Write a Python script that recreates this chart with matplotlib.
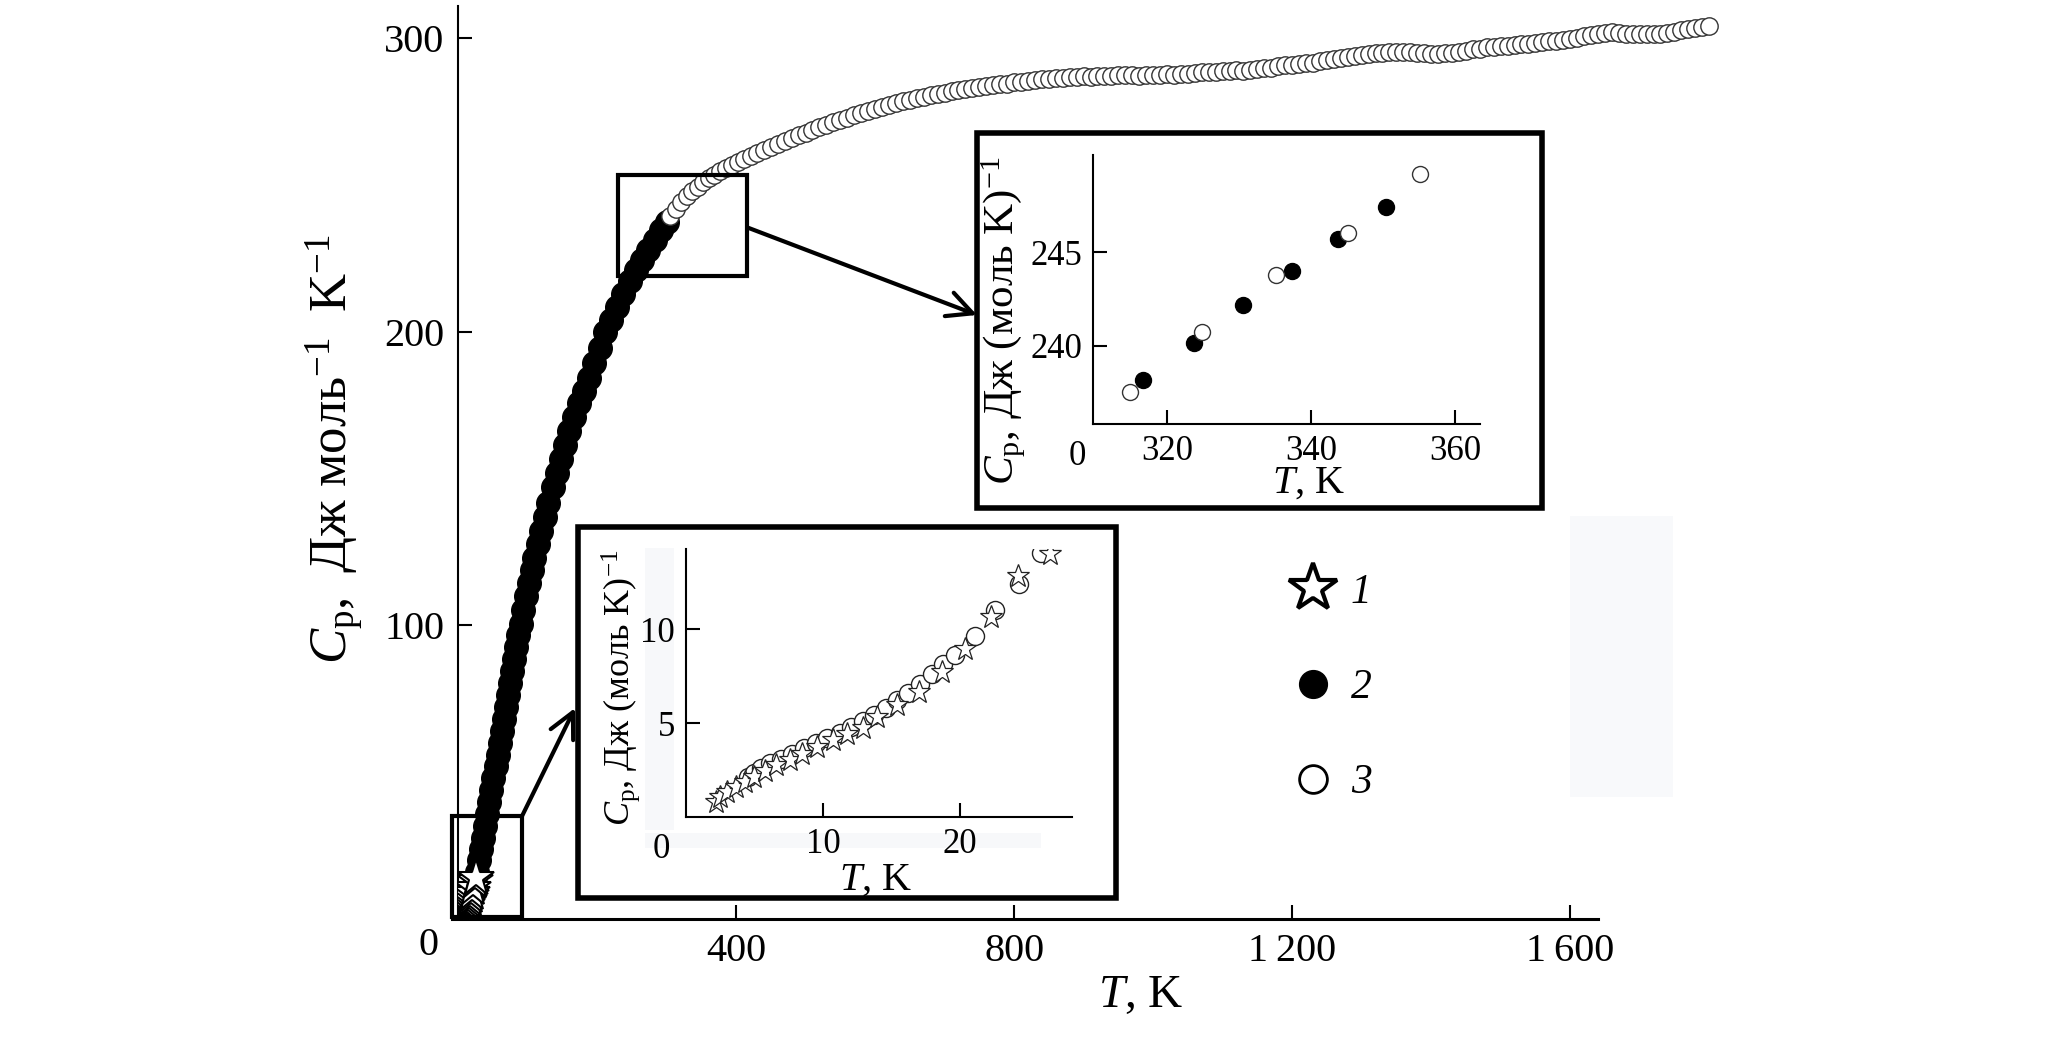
import matplotlib
matplotlib.use("Agg")
import matplotlib.pyplot as plt
from matplotlib.patches import Rectangle
from matplotlib.lines import Line2D
from matplotlib.font_manager import FontProperties

plt.rcParams['font.family'] = ['Liberation Serif', 'DejaVu Serif']
plt.rcParams['mathtext.fontset'] = 'custom'
plt.rcParams['mathtext.rm'] = 'Liberation Serif'
plt.rcParams['mathtext.it'] = 'Liberation Serif:italic'

# ---- data: series 1 (stars), low temperatures
t_star = [2.22, 2.49, 3.00, 3.66, 4.31, 4.96, 5.75, 6.61, 7.57, 8.49, 9.54, 10.71,
          11.76, 12.93, 13.97, 15.41, 17.05, 18.67, 20.37, 22.27, 24.28, 26.56]
cp_star = [0.80, 1.06, 1.33, 1.60, 1.86, 2.13, 2.45, 2.75, 3.05, 3.37, 3.72, 4.08,
           4.44, 4.75, 5.32, 5.98, 6.65, 7.71, 8.96, 10.64, 12.80, 14.01]

# series 3 (open circles) in the low-temperature inset
t_open_low = [4.50, 4.96, 5.49, 6.14, 6.92, 7.76, 8.62, 9.48, 10.31, 11.23, 12.09, 12.93,
              13.71, 14.58, 15.41, 16.19, 17.11, 17.94, 18.80, 19.66, 21.09, 22.59, 24.36, 25.93]
cp_open_low = [2.13, 2.36, 2.63, 2.87, 3.11, 3.37, 3.67, 3.94, 4.22, 4.47, 4.79, 5.11,
               5.41, 5.82, 6.21, 6.62, 7.10, 7.63, 8.16, 8.60, 9.63, 10.99, 12.41, 14.06]

# series 2 (filled circles), main curve
t_fill = [6, 9, 12, 15, 18, 21, 24, 27, 30, 33, 36, 39, 42, 45, 48, 51, 54, 57, 60, 63,
          66, 69, 72, 75, 78, 81, 84, 87, 90, 94, 98, 102, 106, 110, 115, 120, 125, 130,
          136, 142, 148, 154, 160, 167, 174, 181, 188, 196, 204, 212, 220, 229, 238, 247,
          256, 265, 274, 283, 292, 300]
cp_fill = [2.85, 3.85, 4.75, 6.0, 7.65, 9.6, 12.1, 16.0, 20.0, 23.9, 27.7, 31.6, 35.9,
           40.0, 44.1, 48.0, 52.0, 56.0, 60.0, 64.1, 68.1, 72.2, 76.3, 80.4, 84.5, 88.5,
           92.6, 96.7, 100.6, 105.4, 110.0, 114.5, 118.8, 122.8, 127.6, 132.3, 137.0,
           141.6, 147.0, 152.0, 156.8, 161.5, 166.3, 171.0, 175.6, 180.0, 184.4, 189.5,
           194.6, 199.8, 203.9, 208.5, 213.0, 217.4, 221.1, 224.6, 228.0, 231.4, 234.6, 237.3]

# series 3 (open circles), main curve
t_open = [305, 313, 321, 329, 337, 345, 353, 361, 369, 377, 385, 394, 403, 412, 421, 430,
          440, 450, 460, 470, 480, 490, 500, 510, 520, 530, 540, 550, 560, 570, 580, 590,
          600, 610, 620, 630, 640, 650, 660, 670, 680, 690, 700, 710, 720, 730, 740, 750,
          760, 770, 780, 790, 800, 810, 820, 830, 840, 850, 860, 870, 880, 890, 900, 910,
          920, 930, 940, 950, 960, 970, 980, 990, 1000, 1010, 1020, 1030, 1040, 1050, 1060,
          1070, 1080, 1090, 1100, 1110, 1120, 1130, 1140, 1150, 1160, 1170, 1180, 1190,
          1200, 1210, 1220, 1230, 1240, 1250, 1260, 1270, 1280, 1290, 1300, 1310, 1320,
          1330, 1340, 1350, 1360, 1370, 1380, 1390, 1400, 1410, 1420, 1430, 1440, 1450,
          1460, 1470, 1480, 1490, 1500, 1510, 1520, 1530, 1540, 1550, 1560, 1570, 1580,
          1590, 1600, 1610, 1620, 1630, 1640, 1650, 1660, 1670, 1680, 1690, 1700, 1710,
          1720, 1730, 1740, 1750, 1760, 1770, 1780, 1790, 1800]
cp_open = [239.3, 241.8, 244.2, 246.2, 247.9, 249.5, 250.9, 252.3, 253.6, 254.7, 255.8,
           257.0, 258.0, 259.0, 259.9, 260.9, 262.0, 263.0, 264.1, 265.0, 266.0, 266.9,
           267.8, 268.8, 269.7, 270.6, 271.4, 272.2, 273.0, 273.8, 274.5, 275.2, 276.0,
           276.7, 277.3, 277.9, 278.5, 279.1, 279.6, 280.1, 280.6, 281.0, 281.5, 281.9,
           282.3, 282.8, 283.1, 283.3, 283.7, 284.1, 284.4, 284.6, 285.0, 285.2, 285.5,
           285.7, 286.0, 286.3, 286.4, 286.6, 286.7, 286.9, 287.0, 286.8, 287.1, 287.3,
           287.2, 287.4, 287.6, 287.4, 287.3, 287.5, 287.4, 287.6, 287.7, 287.5, 287.8,
           288.0, 288.3, 288.4, 288.6, 288.5, 288.8, 289.0, 289.1, 289.0, 289.3, 289.6,
           289.8, 290.0, 290.4, 290.8, 291.0, 291.2, 291.5, 291.7, 292.2, 292.6, 293.0,
           293.3, 293.6, 294.0, 294.3, 294.6, 294.9, 295.1, 295.3, 295.2, 295.4, 295.3,
           295.0, 294.9, 294.8, 294.7, 294.9, 295.0, 295.3, 295.7, 296.2, 296.5, 296.9,
           297.2, 297.3, 297.5, 297.6, 297.9, 298.2, 298.5, 298.7, 299.0, 299.2, 299.5,
           299.6, 300.2, 300.7, 301.2, 301.6, 301.9, 302.0, 301.8, 301.6, 301.4, 301.3,
           301.5, 301.4, 301.6, 301.9, 302.3, 302.8, 303.2, 303.6, 304.0, 304.3]

# high-temperature inset
t_fill_hi = [316.7, 323.7, 330.5, 337.3, 343.7, 350.4]
cp_fill_hi = [238.18, 240.14, 242.16, 243.98, 245.73, 247.43]
t_open_hi = [314.8, 324.9, 335.1, 345.1, 355.2]
cp_open_hi = [237.5, 240.73, 243.8, 246.04, 249.16]

W, H = 2057, 1043


def fig_box(x0, y0, x1, y1):
    # pixel box (top-left origin) -> figure fraction [l, b, w, h]
    return [x0 / W, 1 - y1 / H, (x1 - x0) / W, (y1 - y0) / H]


fig = plt.figure(figsize=(W / 100, H / 100), dpi=100)

# ---------------- main axes ----------------
ax = fig.add_axes(fig_box(458, 6, 1730, 919))
ax.plot(t_fill, cp_fill, 'o', ms=17, mfc='black', mec='black', zorder=3)
ax.plot(t_open, cp_open, 'o', ms=12.5, mfc='white', mec='#333333', mew=1.0, zorder=4)
ax.plot(t_star, cp_star, '*', ms=28, mfc='white', mec='black', mew=1.5, zorder=5)

ax.set_xlim(0, 1830)
ax.set_ylim(0, 311)
for s in ['top', 'right']:
    ax.spines[s].set_visible(False)
ax.spines['bottom'].set_bounds(-8, 1640)
ax.spines['bottom'].set_linewidth(2.2)
ax.spines['left'].set_linewidth(1.5)
ax.set_xticks([400, 800, 1200, 1600], ['400', '800', '1\u2009200', '1\u2009600'])
ax.set_yticks([100, 200, 300], ['100', '200', '300'])
ax.tick_params(direction='in', length=10, width=1.5, labelsize=29, pad=10)
ax.text(-42, -9, '0', fontsize=29, ha='center', va='center')
ax.set_xlabel('$T$, K', fontsize=34)
ax.xaxis.set_label_coords(0.537, -0.061)
ax.set_ylabel('$C_\\mathrm{p}$, \u2009Дж моль$^{-1}$ \u2009K$^{-1}$', fontsize=38)
ax.yaxis.set_label_coords(-0.0735, 0.515)

# zoom boxes and arrows
ax.add_patch(Rectangle((230, 219), 186, 34.5, fill=False, lw=3, ec='black', zorder=6))
ax.add_patch(Rectangle((-8, 0.8), 99.5, 34.3, fill=False, lw=3, ec='black', zorder=6,
                       clip_on=False))
ax.annotate('', xy=(977 / W, 1 - 315 / H), xycoords='figure fraction',
            xytext=(417, 235.5), textcoords='data',
            arrowprops=dict(arrowstyle='->', lw=3, mutation_scale=45, shrinkA=0, shrinkB=0))
ax.annotate('', xy=(575 / W, 1 - 708 / H), xycoords='figure fraction',
            xytext=(92, 35), textcoords='data',
            arrowprops=dict(arrowstyle='->', lw=3, mutation_scale=45, shrinkA=0, shrinkB=0))

# faint scan artefact on the right
fig.add_artist(Rectangle((1570 / W, 1 - 797 / H), 103 / W, 281 / H,
                         transform=fig.transFigure, fc='#f8f9fb', ec='none', zorder=0.5))

# legend
handles = [Line2D([], [], ls='none', marker='*', ms=36, mfc='white', mec='black', mew=3),
           Line2D([], [], ls='none', marker='o', ms=20, mfc='black', mec='black'),
           Line2D([], [], ls='none', marker='o', ms=20, mfc='white', mec='black', mew=2)]
fig.legend(handles, ['1', '2', '3'], loc='center', bbox_to_anchor=(1330 / W, 1 - 688 / H),
           frameon=False, prop=FontProperties(family='Liberation Serif', style='italic', size=30),
           labelspacing=1.36, handletextpad=0.3, handlelength=1.2)

# ---------------- inset frames ----------------
for box in [(977, 133, 1542, 508), (578, 527, 1116, 898)]:
    l, b, w, h = fig_box(*box)
    fig.add_artist(Rectangle((l, b), w, h, transform=fig.transFigure, fc='white',
                             ec='black', lw=4, zorder=1))

# light artefacts inside the low-temperature frame
fig.add_artist(Rectangle(fig_box(645, 548, 674, 830)[:2], 29 / W, 282 / H,
                         transform=fig.transFigure, fc='#f7f8fa', ec='none', zorder=1.2))
fig.add_artist(Rectangle(fig_box(645, 833, 1041, 848)[:2], 396 / W, 15 / H,
                         transform=fig.transFigure, fc='#f7f8fa', ec='none', zorder=1.2))


def style_inset(a):
    for s in ['top', 'right']:
        a.spines[s].set_visible(False)
    for s in ['left', 'bottom']:
        a.spines[s].set_linewidth(1.5)
    a.patch.set_alpha(0)
    a.tick_params(direction='in', length=10, width=1.5, labelsize=25, pad=8)


# high-temperature inset
ax1 = fig.add_axes(fig_box(1093, 155, 1480, 424), zorder=2)
ax1.plot(t_fill_hi, cp_fill_hi, 'o', ms=11.5, mfc='black', mec='black')
ax1.plot(t_open_hi, cp_open_hi, 'o', ms=11.5, mfc='white', mec='#333333', mew=1.0)
ax1.set_xlim(309.7, 363.5)
ax1.set_ylim(235.8, 250.2)
ax1.set_xticks([320, 340, 360])
ax1.set_yticks([240, 245])
style_inset(ax1)
ax1.text(-0.04, -0.06, '0', transform=ax1.transAxes, fontsize=25, ha='center', va='top')
ax1.set_xlabel('$T$, K', fontsize=29)
ax1.xaxis.set_label_coords(0.556, -0.15)
ax1.set_ylabel(r'$C_\mathrm{p}$, Дж (моль K)$^{-1}$', fontsize=31)
ax1.yaxis.set_label_coords(-0.169, 0.383)

# low-temperature inset
ax2 = fig.add_axes(fig_box(686, 549, 1072, 817), zorder=2)
ax2.plot(t_open_low, cp_open_low, 'o', ms=13, mfc='white', mec='#222222', mew=1.0)
ax2.plot(t_star, cp_star, '*', ms=17, mfc='white', mec='#222222', mew=0.9)
ax2.set_xlim(0, 28.2)
ax2.set_ylim(0, 14.26)
ax2.set_xticks([10, 20])
ax2.set_yticks([5, 10])
style_inset(ax2)
ax2.text(-0.065, -0.06, '0', transform=ax2.transAxes, fontsize=25, ha='center', va='top')
ax2.set_xlabel('$T$, K', fontsize=29)
ax2.xaxis.set_label_coords(0.49, -0.165)
ax2.set_ylabel(r'$C_\mathrm{p}$, Дж (моль K)$^{-1}$', fontsize=26)
ax2.yaxis.set_label_coords(-0.114, 0.483)

fig.savefig('out.png', dpi=100)
